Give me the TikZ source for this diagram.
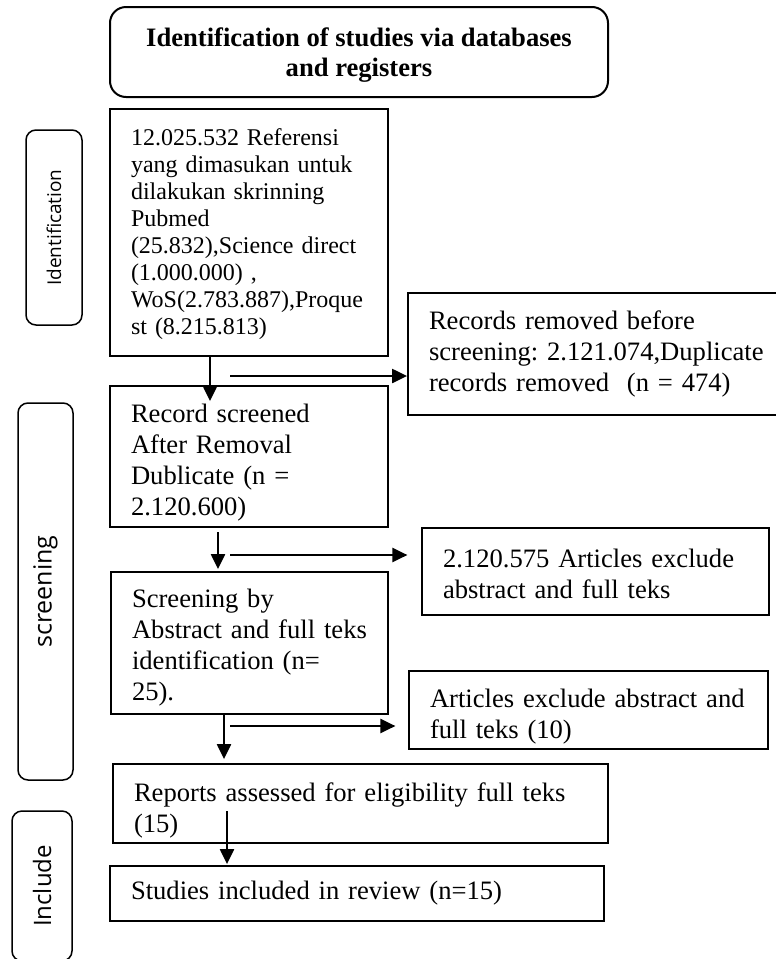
\documentclass[tikz,border=0pt]{standalone}
\usepackage{fontspec}
\setmainfont{Liberation Serif}
\newfontfamily\sidefont{Open Sans}
\usetikzlibrary{arrows.meta}
\hyphenpenalty=10000
\exhyphenpenalty=10000
\frenchspacing

\tikzset{
  box/.style={draw, line width=1.8pt, align=left, inner xsep=21pt, inner ysep=3pt,
    font=\fontsize{26.6}{31}\selectfont},
  side/.style={draw, line width=1.5pt, rounded corners=10pt, rotate=90, inner sep=0pt},
  arr/.style={-{Triangle[length=15pt,width=14pt]}, line width=2.2pt},
}

\begin{document}
\begin{tikzpicture}[x=1pt,y=-1pt]
\useasboundingbox (0,0) rectangle (776,959);
% heading
\node (0) at (359,52) [draw, line width=2pt, rounded corners=16pt, minimum width=498pt, minimum height=90pt, align=center, font=\bfseries\fontsize{26.6}{30}\selectfont] {\rule{0pt}{24pt}Identification of studies via databases\\and registers};
% main column
\node (1) at (249,232.5) [box, text width=236pt, minimum height=247pt, font=\fontsize{24}{27}\selectfont] {\rule{0pt}{20pt}12.025.532 Referensi\\yang dimasukan untuk\\dilakukan skrinning\\Pubmed\\(25.832),Science direct\\(1.000.000) ,\\WoS(2.783.887),Proque\\st (8.215.813)};
\node (2) at (249,456.5) [box, text width=236pt, minimum height=141pt] {\rule{0pt}{30pt}Record screened\\After Removal\\Dublicate (n =\\2.120.600)};
\node (3) at (249.5,643) [box, text width=235pt, minimum height=142pt] {\rule{0pt}{28pt}Screening by\\Abstract and full teks\\identification (n=\\25).};
\node (4) at (360.5,803.5) [box, text width=453pt, minimum height=79pt] {\rule{0pt}{33pt}Reports assessed for eligibility full teks\\(15)};
\node (5) at (357,893.5) [box, text width=452pt, minimum height=55pt] {Studies included in review (n=15)};
% excluded
\node (6) at (599,354) [box, text width=340pt, minimum height=122pt] {Records removed before\\screening: 2.121.074,Duplicate\\records removed~~(n = 474)};
\node (7) at (595.5,571.5) [box, line width=1.2pt, text width=305pt, minimum height=87pt] {\rule{0pt}{24pt}2.120.575 Articles exclude\\abstract and full teks};
\node (8) at (588.5,710) [box, line width=1.2pt, text width=317pt, minimum height=78pt] {\rule{0pt}{32pt}Articles exclude abstract and\\full teks (10)};
% phases
\node (9) at (54,227.5) [side, minimum width=195pt, minimum height=56pt, font=\sidefont\fontsize{19}{21}\selectfont] {Identification};
\node (10) at (45.5,591.5) [side, minimum width=377pt, minimum height=55pt, font=\sidefont\fontsize{25}{28}\selectfont] {screening};
\node (11) at (42,886) [side, minimum width=150pt, minimum height=60pt, font=\sidefont\fontsize{24}{27}\selectfont] {Include};
% arrows
\coordinate (d1) at (210,0);
\coordinate (d2) at (218,532);
\coordinate (d3) at (224,0);
\coordinate (d4) at (227,811);
\coordinate (h1) at (230,376);
\coordinate (h2) at (230,555);
\coordinate (h3) at (230,726);
\draw[arr, shorten >=-16pt] (1.south -| d1) -- (2.north -| d1);
\draw[arr, shorten >=2pt] (d2) -- (d2 |- 3.north);
\draw[arr, shorten >=4pt] (3.south -| d3) -- (4.north -| d3);
\draw[arr, shorten >=1pt] (d4) -- (d4 |- 5.north);
\draw[arr] (h1) -- (h1 -| 6.west);
\draw[arr, shorten >=14pt] (h2) -- (h2 -| 7.west);
\draw[arr, shorten >=13pt] (h3) -- (h3 -| 8.west);
\end{tikzpicture}
\end{document}
